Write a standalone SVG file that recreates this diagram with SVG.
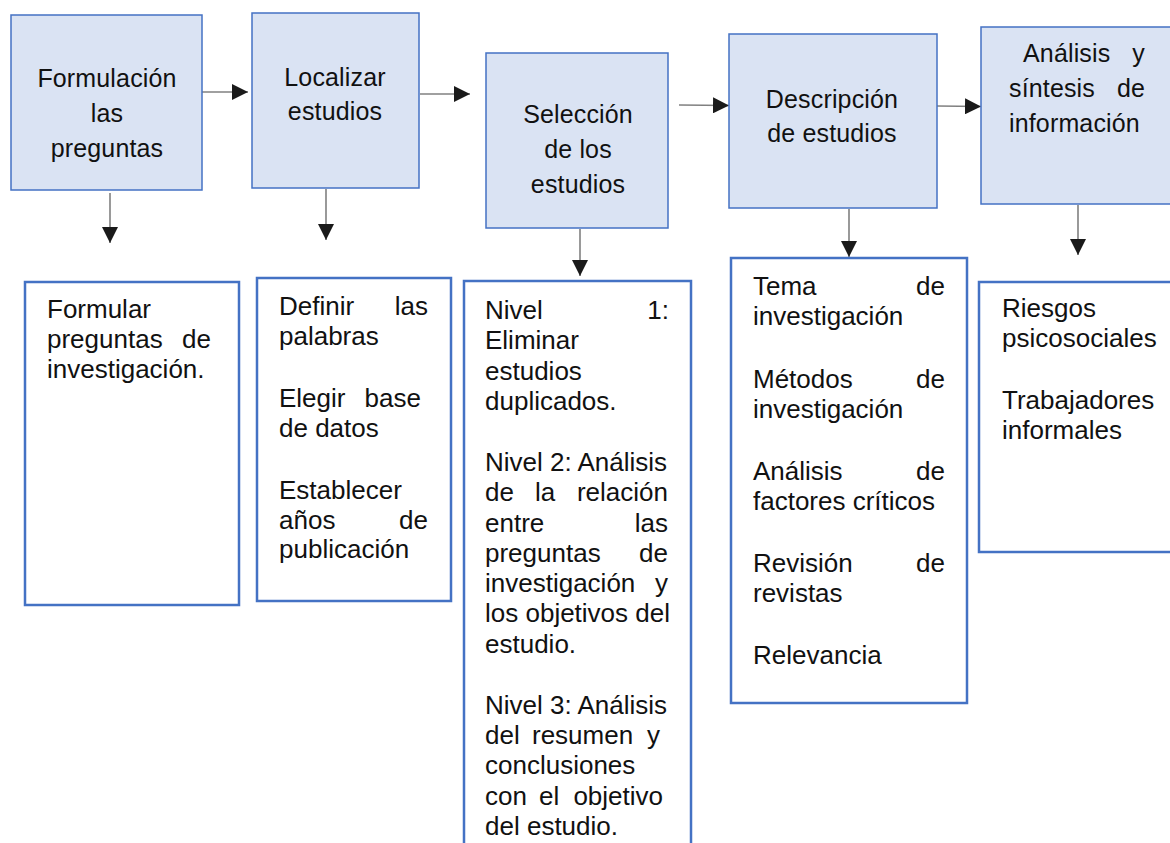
<svg xmlns="http://www.w3.org/2000/svg" width="1170" height="843" viewBox="0 0 1170 843">
<style>
.top{fill:#dae3f3;stroke:#4472c4;stroke-width:1.5}
.sub{fill:#ffffff;stroke:#4472c4;stroke-width:2.5}
.tt{font-family:"Liberation Sans",Arial,sans-serif;font-size:25px;letter-spacing:0.15px;fill:#111;text-anchor:middle}
.ts{font-family:"Liberation Sans",Arial,sans-serif;font-size:26px;fill:#111}
.r{text-anchor:end}
.conn{stroke:#808080;stroke-width:1.6;fill:none}
</style>
<defs>
<marker id="ah" markerUnits="userSpaceOnUse" markerWidth="16" markerHeight="16" refX="16" refY="8" orient="auto">
<path d="M0,0 L16,8 L0,16 Z" fill="#1a1a1a"/>
</marker>
</defs>
<rect width="1170" height="843" fill="#ffffff"/>

<g id="connectors">
<line class="conn" x1="202" y1="92" x2="248" y2="92" marker-end="url(#ah)"/>
<line class="conn" x1="420" y1="94" x2="470" y2="94" marker-end="url(#ah)"/>
<line class="conn" x1="679" y1="105" x2="729" y2="105.5" marker-end="url(#ah)"/>
<line class="conn" x1="937" y1="106" x2="981" y2="106.5" marker-end="url(#ah)"/>
<line class="conn" x1="110" y1="193" x2="110" y2="243" marker-end="url(#ah)"/>
<line class="conn" x1="326" y1="189" x2="326" y2="240" marker-end="url(#ah)"/>
<line class="conn" x1="580" y1="229" x2="580" y2="276" marker-end="url(#ah)"/>
<line class="conn" x1="849" y1="209" x2="849" y2="257" marker-end="url(#ah)"/>
<line class="conn" x1="1078" y1="205" x2="1078" y2="255" marker-end="url(#ah)"/>
</g>

<g id="n-formulacion">
<rect class="top" x="11" y="15" width="191" height="175"/>
<text class="tt" x="107" y="87">Formulación</text>
<text class="tt" x="107" y="122">las</text>
<text class="tt" x="107" y="157">preguntas</text>
</g>

<g id="n-localizar">
<rect class="top" x="252" y="13" width="167" height="175"/>
<text class="tt" x="335" y="86">Localizar</text>
<text class="tt" x="335" y="120">estudios</text>
</g>

<g id="n-seleccion">
<rect class="top" x="486" y="53" width="182" height="175"/>
<text class="tt" x="578" y="123">Selección</text>
<text class="tt" x="578" y="158">de los</text>
<text class="tt" x="578" y="193">estudios</text>
</g>

<g id="n-descripcion">
<rect class="top" x="729" y="34" width="208" height="174"/>
<text class="tt" x="832" y="108">Descripción</text>
<text class="tt" x="832" y="142">de estudios</text>
</g>

<g id="n-analisis">
<rect class="top" x="981" y="27" width="200" height="177"/>
<text class="tt" x="1023" y="62" style="text-anchor:start">Análisis</text>
<text class="tt r" x="1145" y="62">y</text>
<text class="tt" x="1009" y="97" style="text-anchor:start">síntesis</text>
<text class="tt r" x="1145" y="97">de</text>
<text class="tt" x="1009" y="132" style="text-anchor:start">información</text>
</g>

<g id="n-formular">
<rect class="sub" x="25" y="282" width="214" height="323"/>
<text class="ts" x="47" y="318">Formular</text>
<text class="ts" x="47" y="348">preguntas</text>
<text class="ts r" x="211" y="348">de</text>
<text class="ts" x="47" y="378">investigación.</text>
</g>

<g id="n-definir">
<rect class="sub" x="257" y="278" width="194" height="323"/>
<text class="ts" x="279" y="315">Definir</text>
<text class="ts r" x="428" y="315">las</text>
<text class="ts" x="279" y="344.5">palabras</text>
<text class="ts" x="279" y="407">Elegir</text>
<text class="ts r" x="421" y="407">base</text>
<text class="ts" x="279" y="436.5">de datos</text>
<text class="ts" x="279" y="499">Establecer</text>
<text class="ts" x="279" y="528.5">años</text>
<text class="ts r" x="428" y="528.5">de</text>
<text class="ts" x="279" y="558">publicación</text>
</g>

<g id="n-nivel">
<rect class="sub" x="464" y="281" width="227" height="580"/>
<text class="ts" x="485" y="319">Nivel</text>
<text class="ts r" x="669" y="319">1:</text>
<text class="ts" x="485" y="349.3">Eliminar</text>
<text class="ts" x="485" y="379.6">estudios</text>
<text class="ts" x="485" y="409.9">duplicados.</text>
<text class="ts" x="485" y="470.9">Nivel 2: Análisis</text>
<text class="ts" x="485" y="501.2">de</text>
<text class="ts" x="535" y="501.2">la</text>
<text class="ts r" x="668" y="501.2">relación</text>
<text class="ts" x="485" y="531.5">entre</text>
<text class="ts r" x="668" y="531.5">las</text>
<text class="ts" x="485" y="561.8">preguntas</text>
<text class="ts r" x="668" y="561.8">de</text>
<text class="ts" x="485" y="592.1">investigación</text>
<text class="ts r" x="668" y="592.1">y</text>
<text class="ts" x="485" y="622.4">los objetivos del</text>
<text class="ts" x="485" y="652.7">estudio.</text>
<text class="ts" x="485" y="713.7">Nivel 3: Análisis</text>
<text class="ts" x="485" y="744">del</text>
<text class="ts" x="532" y="744">resumen</text>
<text class="ts r" x="660" y="744">y</text>
<text class="ts" x="485" y="774.3">conclusiones</text>
<text class="ts" x="485" y="804.6">con</text>
<text class="ts" x="539" y="804.6">el</text>
<text class="ts r" x="663" y="804.6">objetivo</text>
<text class="ts" x="485" y="834.9">del estudio.</text>
</g>

<g id="n-temas">
<rect class="sub" x="731" y="258" width="236" height="445"/>
<text class="ts" x="753" y="295">Tema</text>
<text class="ts r" x="945" y="295">de</text>
<text class="ts" x="753" y="325">investigación</text>
<text class="ts" x="753" y="388">Métodos</text>
<text class="ts r" x="945" y="388">de</text>
<text class="ts" x="753" y="418">investigación</text>
<text class="ts" x="753" y="480">Análisis</text>
<text class="ts r" x="945" y="480">de</text>
<text class="ts" x="753" y="510">factores críticos</text>
<text class="ts" x="753" y="572">Revisión</text>
<text class="ts r" x="945" y="572">de</text>
<text class="ts" x="753" y="602">revistas</text>
<text class="ts" x="753" y="664">Relevancia</text>
</g>

<g id="n-riesgos">
<rect class="sub" x="979" y="282" width="210" height="270"/>
<text class="ts" x="1002" y="317">Riesgos</text>
<text class="ts" x="1002" y="347">psicosociales</text>
<text class="ts" x="1002" y="409">Trabajadores</text>
<text class="ts" x="1002" y="439">informales</text>
</g>
</svg>
